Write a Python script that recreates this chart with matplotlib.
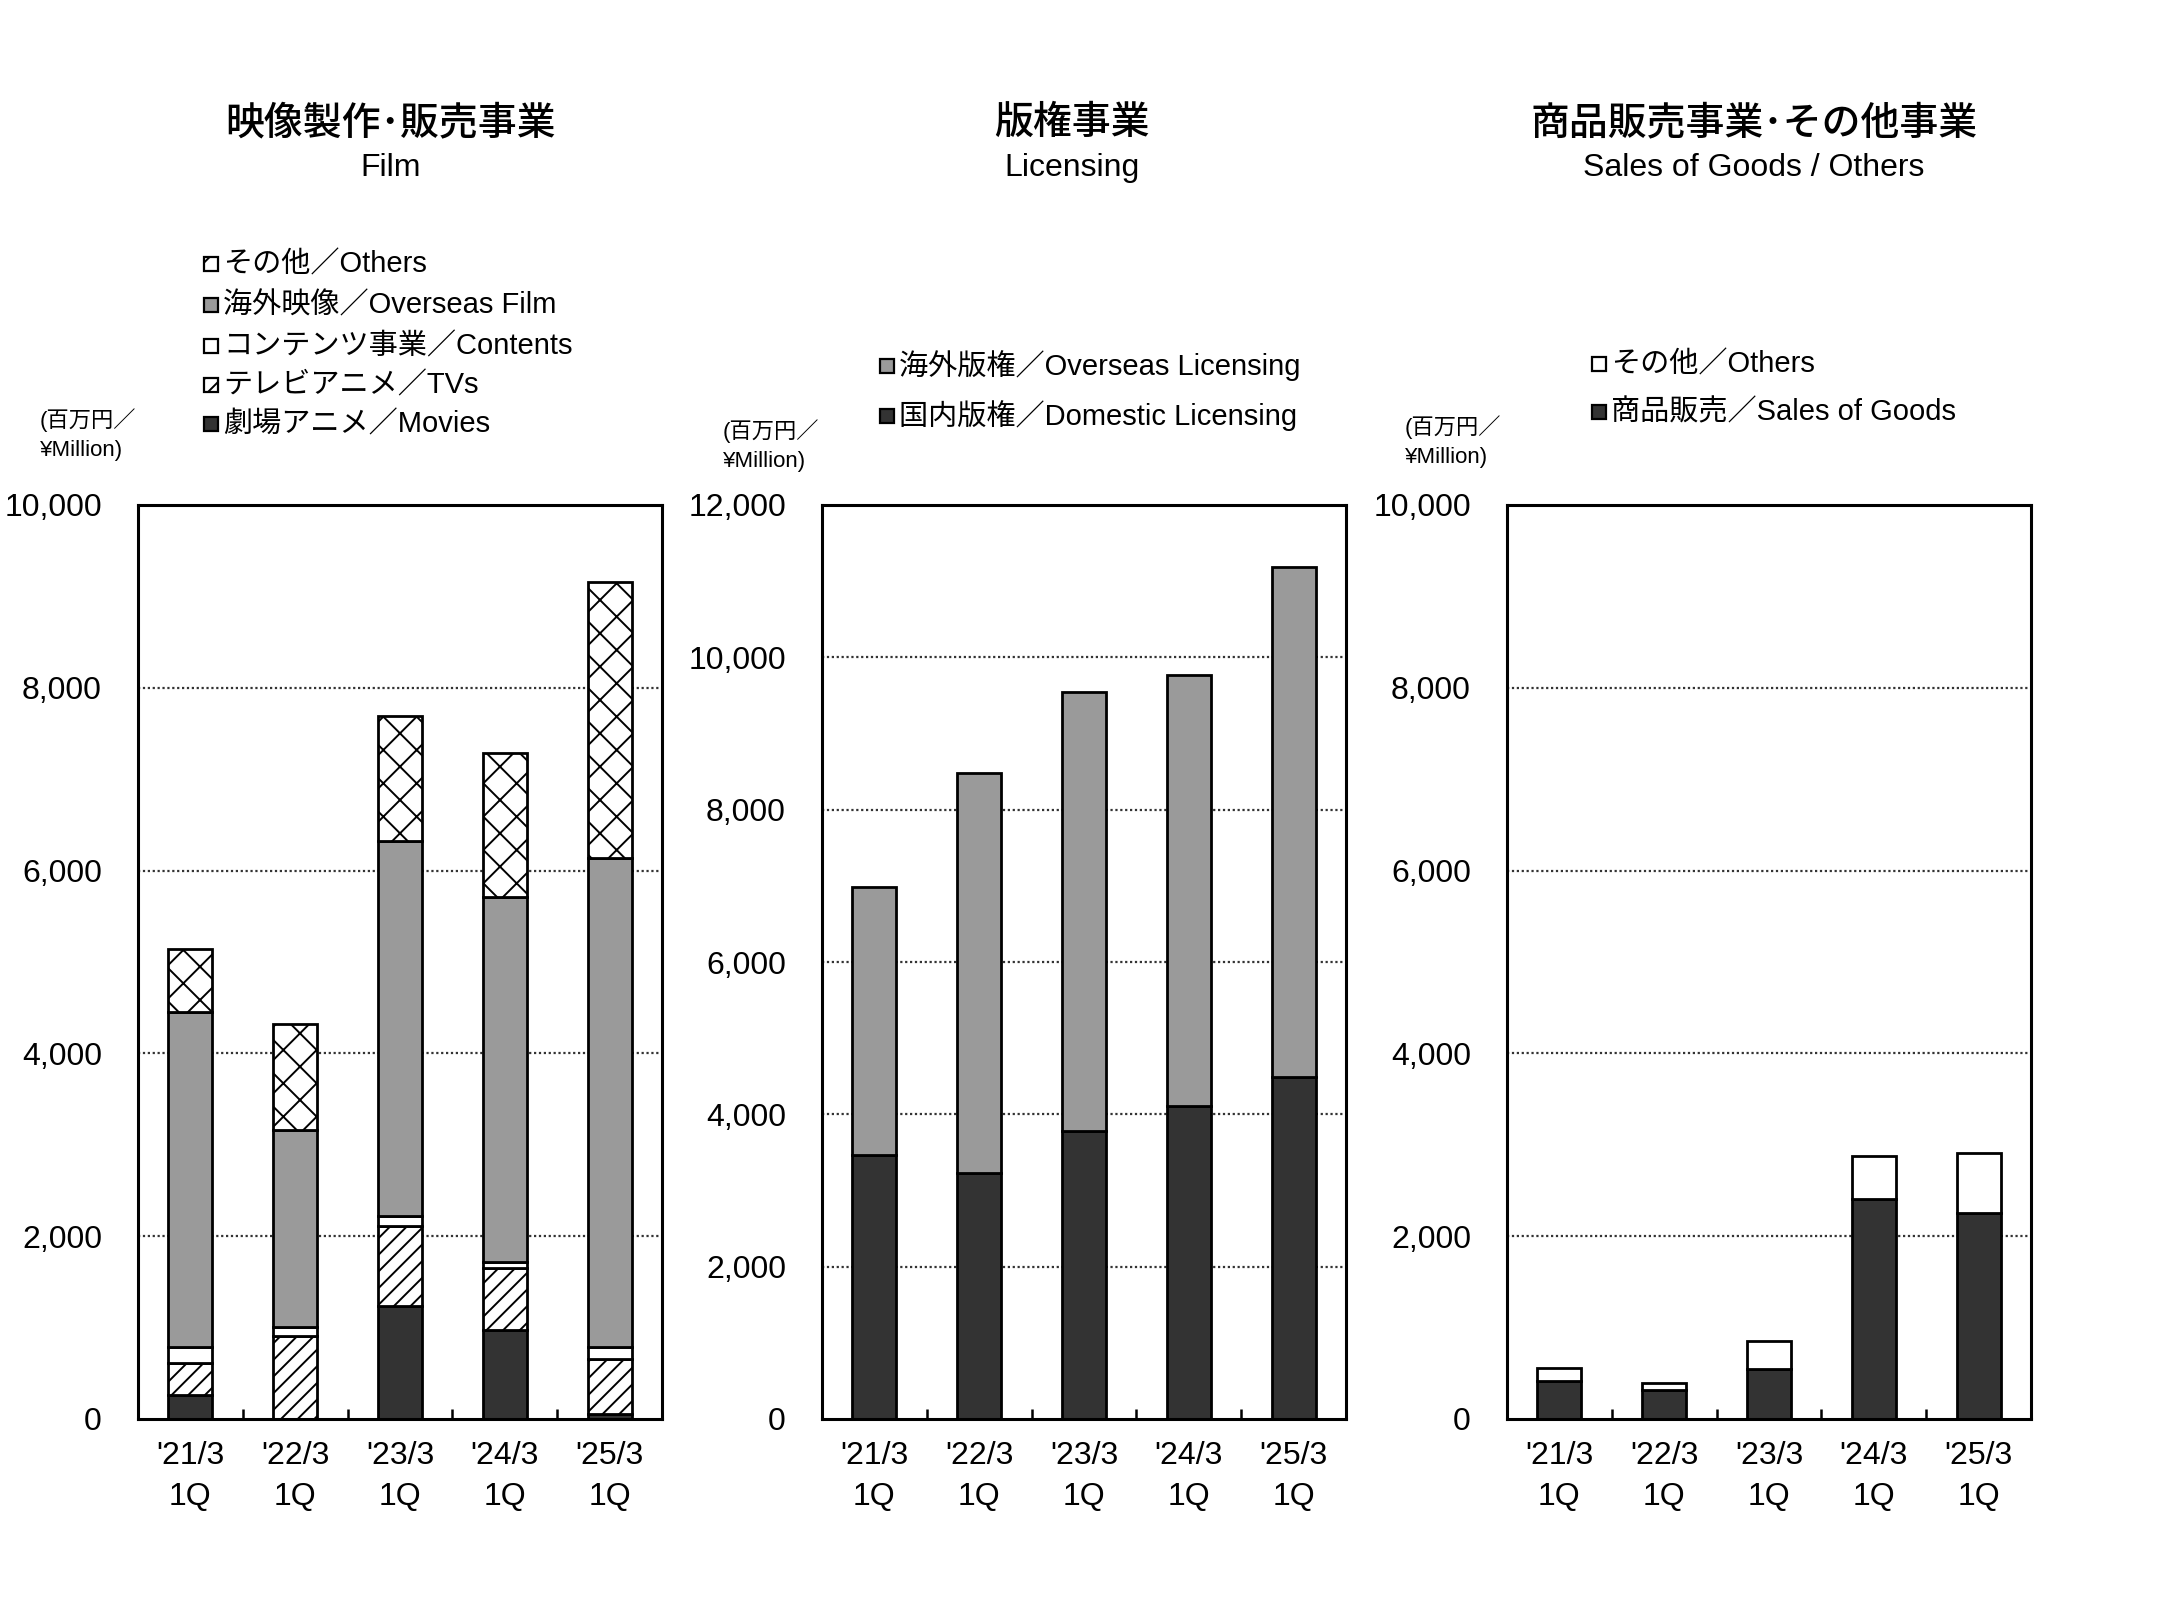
import matplotlib
matplotlib.use("Agg")
import matplotlib.pyplot as plt
from matplotlib.patches import Rectangle
from matplotlib.ticker import FuncFormatter, FixedLocator
import numpy as np

plt.rcParams['font.family'] = ['Liberation Sans', 'Noto Sans CJK JP', 'DejaVu Sans']
plt.rcParams['hatch.linewidth'] = 1.4

# ---- data (¥ million) ----
quarters = ["'21/3\n1Q", "'22/3\n1Q", "'23/3\n1Q", "'24/3\n1Q", "'25/3\n1Q"]

film_movies = [265, 0, 1231, 972, 60]
film_tvs = [350, 911, 880, 677, 592]
film_contents = [173, 92, 111, 74, 136]
film_overseas = [3661, 2154, 4104, 3988, 5354]
film_others = [696, 1169, 1366, 1581, 3015]

lic_domestic = [3465, 3228, 3780, 4110, 4488]
lic_overseas = [3519, 5252, 5763, 5654, 6693]

goods_sales = [419, 321, 550, 2402, 2258]
goods_others = [137, 72, 301, 478, 648]

titles_jp = ["映像製作･販売事業", "版権事業", "商品販売事業･その他事業"]
titles_en = ["Film", "Licensing", "Sales of Goods / Others"]

film_labels = ["その他／Others", "海外映像／Overseas Film", "コンテンツ事業／Contents",
               "テレビアニメ／TVs", "劇場アニメ／Movies"]
lic_labels = ["海外版権／Overseas Licensing", "国内版権／Domestic Licensing"]
goods_labels = ["その他／Others", "商品販売／Sales of Goods"]
unit_label = "(百万円／\n¥Million)"

DARK = "#333333"
GRAY = "#9a9a9a"
W, H = 2160, 1599

fig = plt.figure(figsize=(21.6, 15.99), dpi=100)


def fx(px):
    return px / W


def fy(py):
    return 1 - py / H


def make_ax(left_px, ymax):
    ax = fig.add_axes([fx(left_px), fy(1419), fx(524), (1419 - 505) / H])
    ax.set_xlim(-0.5, 4.5)
    ax.set_ylim(0, ymax)
    ax.set_yticks(np.arange(0, ymax + 1, 2000))
    ax.yaxis.set_major_formatter(FuncFormatter(lambda v, p: f"{int(v):,}"))
    ax.set_xticks(range(5))
    ax.set_xticklabels(quarters, linespacing=1.45)
    ax.xaxis.set_minor_locator(FixedLocator([0.5, 1.5, 2.5, 3.5]))
    ax.tick_params(axis='x', which='major', length=0, pad=16, labelsize=23)
    ax.tick_params(axis='x', which='minor', direction='in', length=7, width=1.8)
    ax.tick_params(axis='y', length=0, pad=26, labelsize=23)
    for s in ax.spines.values():
        s.set_linewidth(2.2)
    for v in np.arange(2000, ymax, 2000):
        ax.axhline(v, color="#333333", linewidth=1.6, linestyle=(0, (1, 1.2)), zorder=0)
    return ax


def stack(ax, series, styles):
    bottom = np.zeros(5)
    for vals, (fc, hatch) in zip(series, styles):
        ax.bar(range(5), vals, 0.42, bottom=bottom, facecolor=fc, hatch=hatch,
               edgecolor='black', linewidth=2, zorder=2)
        bottom += np.array(vals)


def legend(x_px, ys_px, labels, styles):
    for y, lab, (fc, hatch) in zip(ys_px, labels, styles):
        fig.add_artist(Rectangle((fx(x_px - 7), fy(y + 7)), 14 / W, 14 / H,
                                 transform=fig.transFigure, facecolor=fc, hatch=hatch,
                                 edgecolor='black', linewidth=1.6))
        fig.text(fx(x_px + 12), fy(y), lab, fontsize=21, ha='left', va='center')


film_styles = [(DARK, None), ('white', '//'), ('white', None), (GRAY, None), ('white', 'x')]
lic_styles = [(DARK, None), (GRAY, None)]
goods_styles = [(DARK, None), ('white', None)]

ax1 = make_ax(138, 10000)
stack(ax1, [film_movies, film_tvs, film_contents, film_overseas, film_others], film_styles)
ax2 = make_ax(822, 12000)
stack(ax2, [lic_domestic, lic_overseas], lic_styles)
ax3 = make_ax(1507, 10000)
stack(ax3, [goods_sales, goods_others], goods_styles)

# titles
for cx, jp, en in zip([391, 1072, 1754], titles_jp, titles_en):
    fig.text(fx(cx), fy(124), jp, fontsize=28, ha='center', va='center', fontweight='medium')
    fig.text(fx(cx), fy(168), en, fontsize=23, ha='center', va='center')

# legends (top entry first)
legend(211, [264, 305, 346, 385, 424], film_labels, film_styles[::-1])
legend(887, [366, 416], lic_labels, lic_styles[::-1])
legend(1599, [364, 412], goods_labels, goods_styles[::-1])

# unit labels
for x, y in [(40, 435), (723, 446), (1405, 442)]:
    fig.text(fx(x), fy(y), unit_label, fontsize=16, ha='left', va='center', linespacing=1.5)

fig.savefig("out.png", dpi=100)
